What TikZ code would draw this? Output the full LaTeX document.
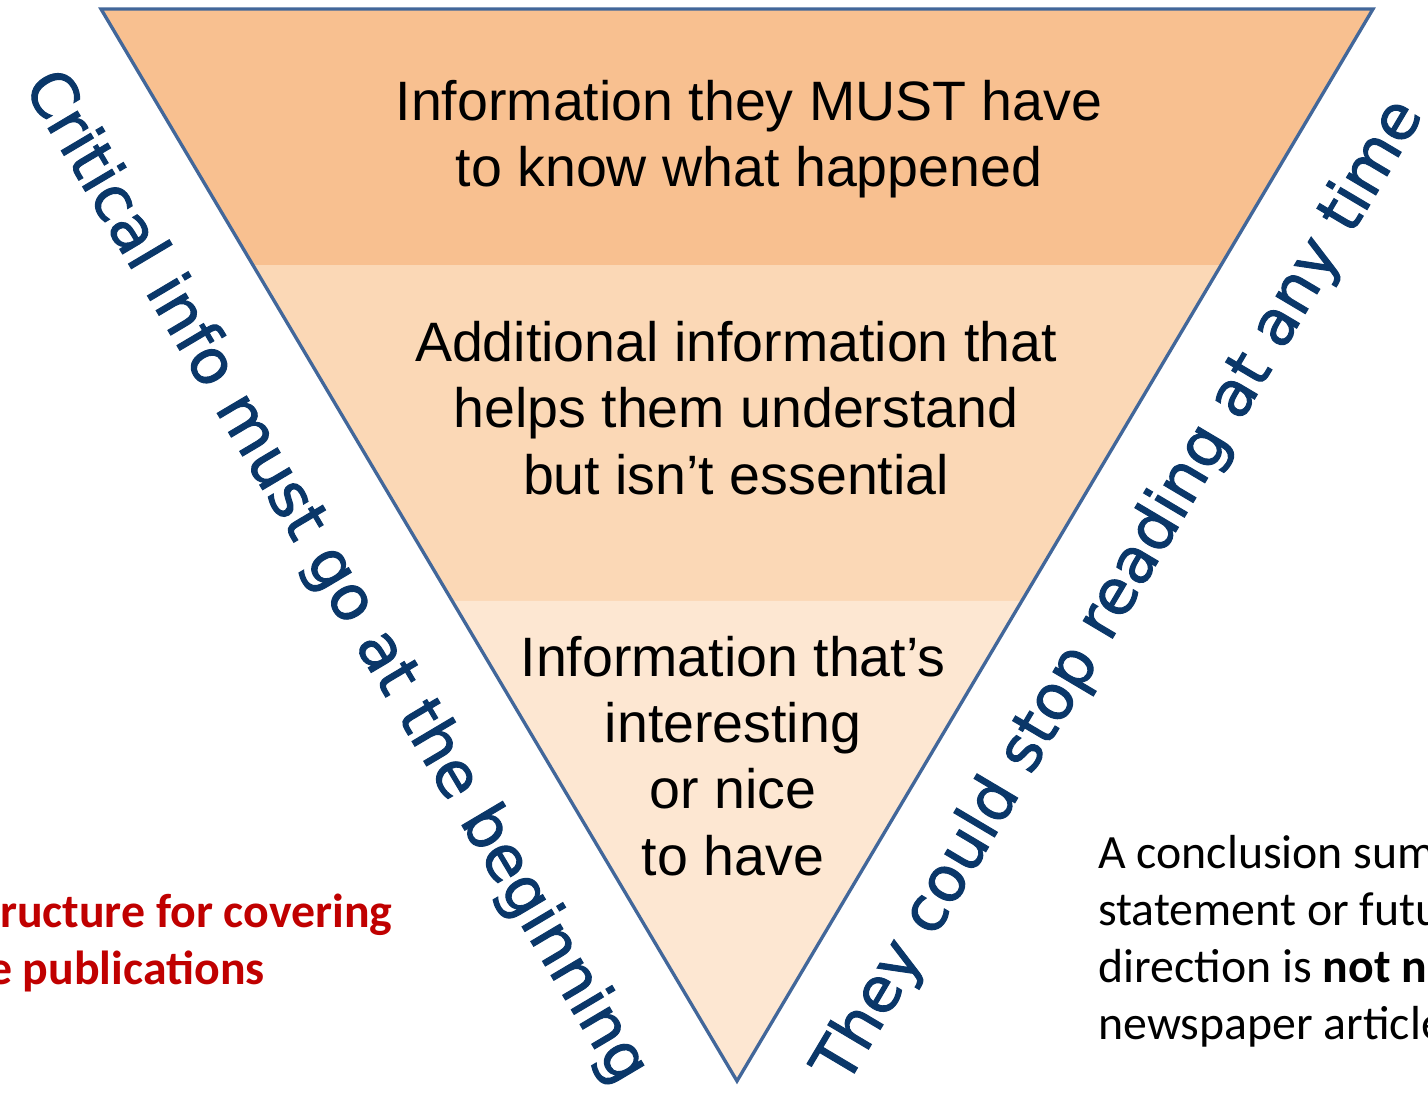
\documentclass[tikz,border=0pt]{standalone}
\usepackage{fontspec}
\setmainfont{Liberation Sans}
\newfontfamily\sidefont[FakeBold=1.6]{DejaVu Sans}
\newfontfamily\notefont{Carlito}
\usetikzlibrary{calc}
\definecolor{bandtop}{RGB}{248,192,144}
\definecolor{bandmid}{RGB}{251,216,182}
\definecolor{bandlow}{RGB}{253,231,210}
\definecolor{rimblue}{RGB}{66,103,154}
\definecolor{navy}{RGB}{10,55,105}
\definecolor{darkred}{RGB}{192,0,0}

\begin{document}
\begin{tikzpicture}[x=0.02cm, y=-0.02cm,
  band/.style={align=center, font=\fontsize{31.6}{37.7}\selectfont},
  side/.style={font=\sidefont\fontsize{35.5}{40}\selectfont, text=navy, inner sep=0pt},
  note/.style={font=\notefont\fontsize{27.2}{32.4}\selectfont, inner sep=0pt},
]
  \useasboundingbox (0,0) rectangle (1428,1096);
  \clip (0,0) rectangle (1428,1096);

  % pyramid corners and band borders
  \coordinate (tl) at (101,9);
  \coordinate (tr) at (1373,9);
  \coordinate (apex) at (737,1081);
  \coordinate (l1) at ($(tl)!0.239!(apex)$);
  \coordinate (r1) at ($(tr)!0.239!(apex)$);
  \coordinate (l2) at ($(tl)!0.552!(apex)$);
  \coordinate (r2) at ($(tr)!0.552!(apex)$);

  \fill[bandtop] (tl) -- (tr) -- (r1) -- (l1) -- cycle;
  \fill[bandmid] (l1) -- (r1) -- (r2) -- (l2) -- cycle;
  \fill[bandlow] (l2) -- (r2) -- (apex) -- cycle;
  \draw[rimblue, line width=1.9pt] (tl) -- (tr) -- (apex) -- cycle;

  \node[band] (must) at (749,139) {Information they MUST have\\to know what happened};
  \node[band] (extra) at (736,408) {Additional information that\\helps them understand\\but isn’t essential};
  \node[band] (nice) at (733,756) {Information that’s\\interesting\\or nice\\to have};

  % texts along the two slopes
  \node[side, rotate=-59.3] (critical) at (335,578) {Critical info must go at the beginning};
  \node[side, rotate=59.3] (stop) at (1120,592) {They could stop reading at any time};

  \node[note, text=darkred, anchor=base east] (lead1) at (393,927) {\bfseries ructure for covering};
  \node[note, text=darkred, anchor=base east] (lead2) at (265,984) {\bfseries e publications};
  \node[note, anchor=north west, align=left] (conclusion) at (1098,835)
    {A conclusion sum\\statement or futu\\direction is \textbf{not n}\\newspaper article};
\end{tikzpicture}
\end{document}
